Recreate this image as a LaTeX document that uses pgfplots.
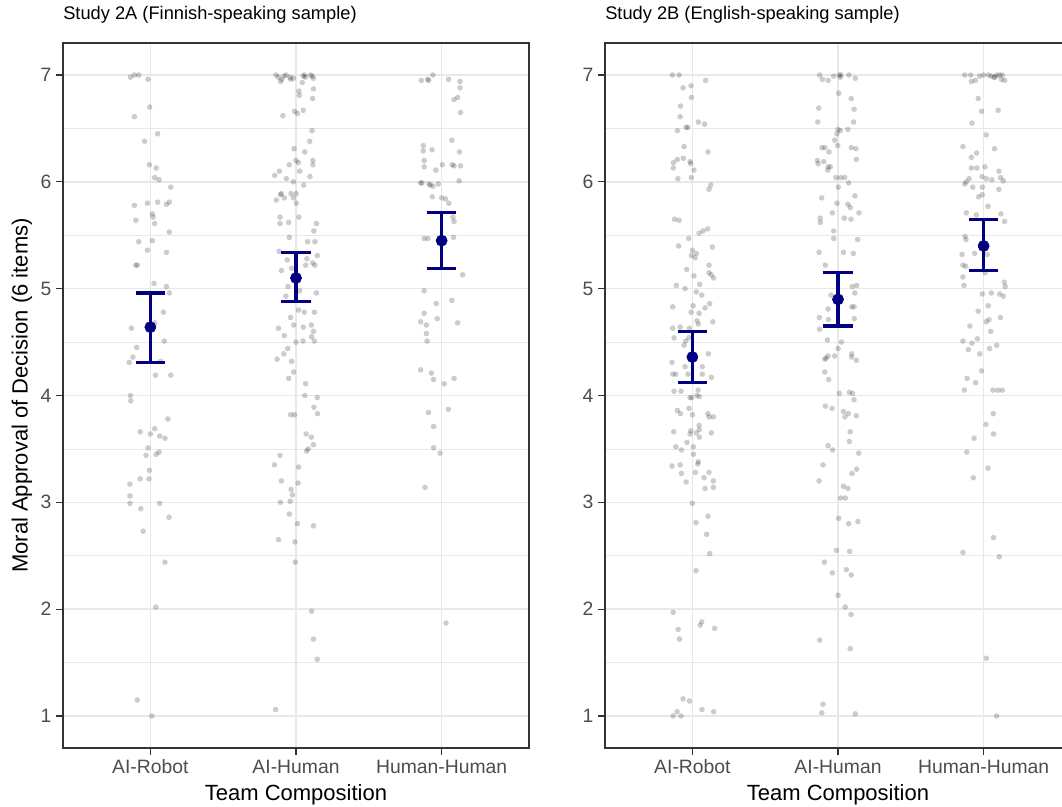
\documentclass[border=0pt]{standalone}
\usepackage{fontspec}
\setmainfont{Liberation Sans}
\usepackage{pgfplots}
\usepackage{pgfplotstable}
\pgfplotsset{compat=1.18}
\definecolor{navyc}{RGB}{0,0,128}
\definecolor{gridc}{RGB}{232,232,232}
\definecolor{borderc}{RGB}{51,51,51}
\definecolor{tickc}{RGB}{77,77,77}

\pgfplotstableread{
g dx y
1 -0.137 6.98
1 -0.110 7.00
1 -0.080 7.00
1 -0.016 6.96
1 -0.005 6.70
1 -0.110 6.61
1 0.050 6.45
1 -0.040 6.38
1 -0.007 6.16
1 0.040 6.13
1 0.030 6.04
1 0.060 6.02
1 0.140 5.95
1 -0.110 5.78
1 -0.020 5.80
1 0.050 5.81
1 0.110 5.79
1 0.130 5.81
1 0.014 5.70
1 0.018 5.67
1 -0.100 5.64
1 0.030 5.61
1 0.130 5.53
1 -0.080 5.44
1 0.014 5.45
1 -0.020 5.36
1 0.110 5.34
1 -0.100 5.22
1 -0.090 5.22
1 0.025 5.05
1 0.110 5.02
1 0.130 4.96
1 0.090 4.78
1 -0.130 4.63
1 0.030 4.68
1 0.096 4.51
1 -0.094 4.45
1 -0.120 4.36
1 -0.146 4.31
1 0.070 4.32
1 0.035 4.19
1 0.140 4.19
1 -0.137 4.00
1 -0.135 3.95
1 0.120 3.78
1 -0.070 3.66
1 0.000 3.64
1 0.030 3.69
1 0.064 3.62
1 0.100 3.60
1 -0.016 3.51
1 -0.030 3.44
1 0.040 3.45
1 0.060 3.47
1 -0.007 3.30
1 -0.070 3.22
1 -0.010 3.22
1 -0.140 3.17
1 -0.140 3.06
1 -0.140 2.99
1 0.064 2.99
1 -0.066 2.94
1 0.128 2.86
1 -0.050 2.73
1 0.100 2.44
1 0.037 2.02
1 -0.090 1.15
1 0.010 1.00
2 -0.137 7.00
2 -0.121 6.98
2 -0.098 6.96
2 -0.082 6.99
2 -0.068 7.00
2 -0.041 6.98
2 -0.018 6.97
2 -0.037 6.96
2 -0.105 6.94
2 0.057 7.00
2 0.066 6.98
2 0.100 7.00
2 0.119 6.97
2 0.112 6.99
2 0.050 6.99
2 0.043 6.93
2 0.020 6.85
2 0.120 6.87
2 0.023 6.81
2 0.114 6.78
2 -0.090 6.62
2 -0.010 6.66
2 0.010 6.64
2 0.050 6.67
2 0.110 6.48
2 0.094 6.38
2 -0.014 6.31
2 0.060 6.28
2 0.000 6.20
2 0.016 6.18
2 0.116 6.20
2 0.116 6.16
2 -0.046 6.16
2 -0.114 6.10
2 -0.146 6.06
2 0.025 6.10
2 0.096 6.05
2 -0.066 6.03
2 -0.018 6.00
2 0.053 5.97
2 -0.107 5.88
2 -0.100 5.89
2 -0.034 5.89
2 0.002 5.89
2 -0.135 5.83
2 -0.080 5.85
2 -0.018 5.85
2 0.002 5.80
2 -0.110 5.67
2 0.020 5.67
2 -0.110 5.61
2 -0.050 5.62
2 0.140 5.61
2 0.123 5.54
2 -0.046 5.48
2 0.080 5.44
2 0.130 5.44
2 -0.116 5.35
2 -0.060 5.27
2 0.075 5.28
2 0.146 5.31
2 0.066 5.22
2 0.114 5.24
2 0.130 5.22
2 -0.100 5.17
2 -0.030 5.19
2 -0.055 5.02
2 0.025 4.98
2 -0.070 4.93
2 0.140 4.96
2 -0.037 4.73
2 0.018 4.80
2 0.057 4.78
2 0.126 4.78
2 -0.016 4.66
2 -0.120 4.63
2 0.050 4.64
2 0.105 4.66
2 0.120 4.60
2 -0.080 4.56
2 0.107 4.55
2 0.126 4.51
2 0.048 4.51
2 0.000 4.50
2 -0.057 4.44
2 -0.084 4.39
2 -0.130 4.34
2 -0.030 4.32
2 -0.016 4.22
2 -0.050 4.16
2 0.066 4.11
2 0.060 4.00
2 0.146 3.98
2 0.123 3.89
2 0.148 3.83
2 -0.037 3.82
2 -0.010 3.82
2 0.070 3.64
2 0.105 3.61
2 0.120 3.54
2 0.084 3.50
2 0.073 3.48
2 -0.110 3.44
2 -0.148 3.35
2 0.018 3.33
2 -0.100 3.20
2 0.014 3.18
2 -0.034 3.12
2 -0.025 3.07
2 -0.107 3.00
2 -0.040 3.01
2 -0.046 2.89
2 0.010 2.80
2 0.120 2.78
2 -0.120 2.65
2 -0.007 2.63
2 -0.005 2.44
2 0.107 1.98
2 0.120 1.72
2 0.146 1.53
2 -0.140 1.06
3 -0.140 6.95
3 -0.096 6.96
3 -0.089 6.95
3 -0.060 7.00
3 0.048 6.96
3 0.126 6.94
3 0.126 6.88
3 0.110 6.79
3 0.085 6.77
3 0.130 6.65
3 0.070 6.39
3 -0.126 6.34
3 -0.126 6.29
3 -0.066 6.30
3 0.123 6.28
3 -0.120 6.20
3 -0.120 6.14
3 0.005 6.16
3 -0.040 6.11
3 0.073 6.16
3 0.085 6.15
3 0.130 6.15
3 -0.144 5.99
3 -0.135 5.99
3 -0.087 5.98
3 -0.060 5.96
3 -0.023 5.98
3 -0.078 5.97
3 0.120 6.01
3 -0.064 5.86
3 0.000 5.85
3 0.027 5.84
3 0.050 5.80
3 0.078 5.67
3 0.085 5.63
3 -0.120 5.47
3 -0.094 5.47
3 0.082 5.48
3 0.144 5.13
3 -0.120 4.98
3 -0.037 4.86
3 0.070 4.89
3 -0.120 4.77
3 -0.144 4.69
3 -0.105 4.66
3 -0.030 4.72
3 0.110 4.68
3 -0.105 4.58
3 -0.100 4.51
3 -0.144 4.24
3 -0.070 4.21
3 -0.055 4.15
3 0.018 4.11
3 0.085 4.16
3 -0.090 3.84
3 0.046 3.87
3 -0.055 3.71
3 -0.055 3.51
3 -0.011 3.46
3 -0.114 3.14
3 0.030 1.87
}\leftpts

\pgfplotstableread{
g dx y
1 -0.137 7.00
1 -0.091 7.00
1 0.091 6.95
1 -0.064 6.88
1 -0.009 6.90
1 -0.007 6.79
1 -0.082 6.71
1 -0.084 6.61
1 0.041 6.56
1 0.084 6.54
1 -0.103 6.48
1 -0.043 6.51
1 -0.032 6.51
1 -0.057 6.33
1 0.107 6.28
1 -0.130 6.18
1 -0.103 6.21
1 -0.062 6.22
1 -0.016 6.19
1 -0.011 6.17
1 -0.132 6.13
1 0.011 6.11
1 -0.100 6.03
1 -0.007 6.04
1 0.126 5.97
1 0.114 5.93
1 -0.123 5.65
1 -0.091 5.64
1 -0.025 5.47
1 0.046 5.52
1 0.073 5.54
1 0.105 5.56
1 -0.094 5.40
1 0.000 5.36
1 0.027 5.33
1 -0.007 5.31
1 0.018 5.29
1 0.137 5.39
1 -0.039 5.18
1 0.011 5.12
1 0.114 5.22
1 0.114 5.15
1 0.130 5.13
1 0.146 5.10
1 -0.110 5.03
1 -0.050 5.00
1 0.050 5.04
1 0.027 4.97
1 0.064 4.94
1 -0.135 4.83
1 0.005 4.84
1 0.119 4.86
1 0.087 4.82
1 -0.009 4.78
1 0.046 4.77
1 0.032 4.70
1 0.041 4.67
1 0.140 4.69
1 -0.135 4.63
1 -0.084 4.64
1 -0.020 4.63
1 -0.126 4.54
1 -0.046 4.51
1 -0.025 4.54
1 -0.057 4.47
1 0.110 4.39
1 -0.140 4.31
1 -0.050 4.27
1 0.068 4.27
1 -0.135 4.20
1 -0.114 4.20
1 -0.030 4.20
1 0.068 4.20
1 0.130 4.17
1 -0.126 4.04
1 -0.078 4.04
1 0.039 4.05
1 0.030 4.00
1 0.048 3.99
1 -0.005 3.98
1 -0.016 3.98
1 -0.023 3.88
1 -0.103 3.86
1 -0.082 3.83
1 0.000 3.82
1 0.107 3.83
1 0.114 3.80
1 0.144 3.80
1 -0.128 3.66
1 -0.011 3.67
1 0.027 3.65
1 0.048 3.68
1 0.048 3.61
1 0.046 3.72
1 0.130 3.65
1 -0.037 3.56
1 -0.016 3.64
1 -0.114 3.52
1 -0.075 3.49
1 0.007 3.52
1 0.007 3.45
1 -0.140 3.34
1 -0.084 3.35
1 0.041 3.38
1 0.037 3.36
1 -0.075 3.27
1 0.020 3.28
1 -0.043 3.19
1 0.080 3.23
1 0.114 3.28
1 0.144 3.20
1 0.144 3.14
1 0.087 3.13
1 0.000 2.99
1 0.025 2.81
1 0.107 2.87
1 0.098 2.70
1 0.119 2.52
1 0.025 2.36
1 -0.132 1.97
1 -0.098 1.81
1 -0.089 1.72
1 0.053 1.85
1 0.064 1.88
1 0.153 1.82
1 -0.064 1.16
1 -0.020 1.14
1 -0.105 1.04
1 -0.132 1.00
1 -0.078 1.00
1 0.066 1.06
1 0.146 1.04
2 -0.126 7.00
2 -0.107 6.96
2 -0.068 6.95
2 -0.030 6.99
2 0.009 7.00
2 0.020 7.00
2 0.075 7.00
2 0.119 6.97
2 0.016 6.98
2 0.005 6.83
2 0.091 6.78
2 -0.132 6.69
2 0.110 6.68
2 -0.139 6.56
2 0.107 6.56
2 0.000 6.49
2 0.016 6.48
2 0.068 6.49
2 -0.007 6.45
2 -0.023 6.39
2 -0.002 6.34
2 -0.110 6.32
2 -0.090 6.32
2 -0.062 6.28
2 0.091 6.32
2 0.123 6.31
2 0.126 6.21
2 -0.142 6.20
2 -0.137 6.17
2 -0.098 6.19
2 -0.068 6.14
2 -0.071 6.11
2 -0.053 6.14
2 -0.014 6.04
2 0.018 6.04
2 0.046 6.04
2 0.073 5.99
2 0.002 5.95
2 -0.112 5.85
2 0.116 5.87
2 -0.007 5.80
2 0.068 5.79
2 0.084 5.76
2 0.144 5.71
2 -0.039 5.71
2 -0.123 5.66
2 -0.121 5.62
2 0.043 5.66
2 0.089 5.65
2 -0.030 5.54
2 -0.030 5.47
2 0.135 5.46
2 -0.130 5.34
2 0.037 5.34
2 0.105 5.33
2 -0.087 5.22
2 0.098 5.02
2 0.128 5.03
2 0.116 4.96
2 -0.048 4.94
2 -0.068 4.81
2 0.094 4.83
2 0.110 4.83
2 -0.128 4.73
2 -0.066 4.71
2 0.112 4.72
2 -0.126 4.62
2 -0.073 4.52
2 0.023 4.50
2 0.000 4.44
2 -0.082 4.35
2 -0.091 4.34
2 -0.068 4.37
2 -0.023 4.37
2 0.094 4.39
2 0.094 4.36
2 0.126 4.33
2 -0.091 4.22
2 -0.064 4.15
2 0.009 4.02
2 0.078 4.03
2 0.100 4.02
2 0.110 3.96
2 -0.087 3.90
2 -0.041 3.88
2 0.037 3.85
2 0.048 3.80
2 0.071 3.83
2 0.126 3.81
2 0.084 3.66
2 0.078 3.57
2 -0.068 3.53
2 -0.037 3.49
2 0.142 3.46
2 -0.103 3.35
2 0.096 3.27
2 0.128 3.31
2 -0.130 3.20
2 0.037 3.15
2 0.068 3.13
2 0.018 3.04
2 0.050 3.04
2 0.005 2.85
2 0.073 2.80
2 0.137 2.82
2 -0.011 2.55
2 0.080 2.54
2 -0.094 2.44
2 -0.039 2.34
2 0.057 2.37
2 0.091 2.32
2 0.000 2.13
2 0.050 2.02
2 0.089 1.95
2 -0.126 1.71
2 0.084 1.63
2 -0.103 1.11
2 -0.112 1.03
2 0.119 1.02
3 -0.130 7.00
3 -0.089 7.00
3 -0.027 6.99
3 0.000 7.00
3 0.034 7.00
3 0.053 6.99
3 0.071 6.98
3 0.091 7.00
3 0.110 7.00
3 0.128 7.00
3 0.121 6.96
3 0.144 6.95
3 0.078 6.98
3 -0.084 6.94
3 -0.057 6.95
3 -0.037 6.78
3 -0.014 6.66
3 0.100 6.67
3 -0.080 6.55
3 0.018 6.44
3 -0.142 6.33
3 0.075 6.31
3 -0.048 6.27
3 -0.084 6.23
3 -0.084 6.13
3 -0.046 6.13
3 0.009 6.14
3 0.105 6.10
3 0.116 6.04
3 -0.100 6.03
3 -0.011 6.05
3 0.018 6.03
3 0.057 6.02
3 0.135 6.01
3 -0.130 5.98
3 -0.119 6.00
3 -0.075 5.95
3 -0.009 5.95
3 0.105 5.93
3 -0.034 5.86
3 -0.009 5.88
3 0.030 5.77
3 -0.119 5.71
3 -0.050 5.69
3 0.119 5.70
3 0.144 5.63
3 -0.128 5.49
3 -0.121 5.46
3 -0.148 5.32
3 -0.062 5.33
3 0.025 5.32
3 -0.142 5.22
3 -0.123 5.21
3 -0.142 5.11
3 -0.135 5.03
3 0.011 5.15
3 0.142 5.06
3 0.148 5.02
3 0.135 4.93
3 0.110 4.95
3 0.053 4.96
3 -0.009 4.95
3 0.032 4.84
3 -0.037 4.79
3 0.116 4.73
3 0.018 4.69
3 0.037 4.71
3 -0.094 4.65
3 0.048 4.60
3 -0.142 4.51
3 -0.080 4.49
3 -0.105 4.43
3 -0.043 4.53
3 0.041 4.44
3 0.089 4.47
3 -0.027 4.39
3 -0.014 4.23
3 -0.114 4.16
3 -0.055 4.12
3 -0.132 4.05
3 0.064 4.05
3 0.098 4.05
3 0.128 4.05
3 0.066 3.83
3 0.016 3.73
3 0.068 3.64
3 -0.066 3.60
3 -0.116 3.47
3 0.030 3.32
3 -0.071 3.23
3 0.068 2.67
3 -0.142 2.53
3 0.107 2.49
3 0.018 1.54
3 0.089 1.00
}\rightpts

\pgfplotsset{
  panel/.style={
    scale only axis, width=349.5pt, height=528.75pt,
    xmin=0.4, xmax=3.6, ymin=0.7, ymax=7.3,
    xtick={1,2,3}, xticklabels={AI-Robot,AI-Human,Human-Human},
    ytick={1,2,3,4,5,6,7}, minor ytick={1.5,2.5,3.5,4.5,5.5,6.5},
    xmajorgrids, ymajorgrids, yminorgrids,
    major grid style={color=gridc, line width=1.1pt},
    minor grid style={color=gridc, line width=0.6pt},
    axis line style={color=borderc, line width=0.9pt},
    tick style={color=borderc, line width=0.9pt},
    major tick length=5.25pt, minor tick length=0pt,
    tick align=outside, xtick pos=bottom, ytick pos=left,
    ticklabel style={font=\fontsize{14.5}{16}\selectfont, text=tickc},
    /pgf/number format/assume math mode=true,
    xlabel={Team Composition},
    xlabel style={font=\fontsize{16.5}{18}\selectfont, at={(axis description cs:0.5,0)}, anchor=base, yshift=-39pt},
    title style={font=\fontsize{13.7}{15}\selectfont, at={(axis description cs:0,1)}, anchor=base west, inner sep=0pt, yshift=11.25pt},
  },
  jit/.style={only marks, mark=*, mark size=2.1pt, mark options={draw=black, draw opacity=0, fill=black, fill opacity=0.2}},
  ci/.style={only marks, color=navyc, mark=*, mark size=4.2pt, mark options={fill=navyc, draw=navyc},
    error bars/.cd, y dir=both, y explicit,
    error bar style={line width=2.4pt, color=navyc},
    error mark options={rotate=90, line width=2.4pt, color=navyc, mark size=10.95pt}},
}

\begin{document}
\begin{tikzpicture}[x=1pt,y=1pt]
\begin{axis}[panel, at={(47.25pt,43.5pt)}, anchor=south west,
  title={Study 2A (Finnish-speaking sample)},
  ylabel={Moral Approval of Decision (6 items)},
  ylabel style={font=\fontsize{16.5}{18}\selectfont, at={(axis description cs:-0.088,0.5)}, anchor=center}]
\addplot[jit] table[x expr=\thisrow{g}+\thisrow{dx}, y=y] {\leftpts};
\addplot[ci] coordinates {
  (1,4.64) += (0,0.32) -= (0,0.33)
  (2,5.10) += (0,0.24) -= (0,0.22)
  (3,5.45) += (0,0.26) -= (0,0.26)
};
\end{axis}
\begin{axis}[panel, at={(453.75pt,43.5pt)}, anchor=south west,
  title={Study 2B (English-speaking sample)}]
\addplot[jit] table[x expr=\thisrow{g}+\thisrow{dx}, y=y] {\rightpts};
\addplot[ci] coordinates {
  (1,4.36) += (0,0.24) -= (0,0.24)
  (2,4.90) += (0,0.25) -= (0,0.25)
  (3,5.40) += (0,0.25) -= (0,0.23)
};
\end{axis}
\pgfresetboundingbox
\path[use as bounding box] (0,0) rectangle (796.5,604.5);
\end{tikzpicture}
\end{document}
